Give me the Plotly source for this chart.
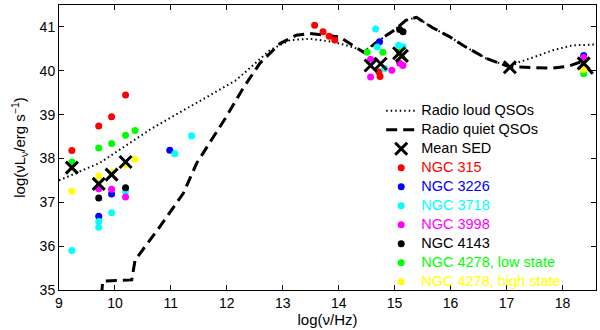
import plotly.graph_objects as go

# ---- curves ----
rl_x = [9.0, 9.73, 10.63, 11.52, 12.17, 12.77, 13.13, 13.48, 13.9, 14.25, 14.45,
        14.73, 15.03, 15.2, 15.39, 15.68, 15.98, 16.22, 16.64, 17.05, 17.23, 17.53,
        17.83, 18.18, 18.6]
rl_y = [37.5, 37.9, 38.66, 39.31, 39.79, 40.47, 40.70, 40.73, 40.66, 40.54, 40.44,
        40.70, 40.96, 41.15, 41.22, 40.98, 40.78, 40.58, 40.28, 40.09, 40.2, 40.33,
        40.47, 40.58, 40.6]

rq_x = [9.74, 9.78, 10.3, 10.36, 10.8, 11.22, 11.46, 11.99, 12.29, 12.59, 12.95,
        13.24, 13.48, 14.02, 14.25, 14.45, 14.73, 15.03, 15.2, 15.39, 15.68, 15.98,
        16.22, 16.64, 17.05, 17.53, 17.83, 18.1, 18.32, 18.48, 18.6]
rq_y = [34.5, 35.2, 35.23, 35.68, 36.44, 37.2, 37.89, 38.95, 39.6, 40.17, 40.62,
        40.81, 40.85, 40.77, 40.58, 40.42, 40.70, 40.96, 41.15, 41.22, 40.98, 40.78,
        40.58, 40.28, 40.09, 40.08, 40.06, 40.1, 40.2, 40.02, 39.85]

# ---- mean SED ----
mean_x = [9.23, 9.71, 9.94, 10.19, 14.57, 14.75, 15.08, 15.13, 17.06, 18.38]
mean_y = [37.79, 37.42, 37.63, 37.92, 40.12, 40.16, 40.40, 40.34, 40.08, 40.17]

# ---- galaxies ----
n315_x = [9.23, 9.71, 9.94, 10.19, 13.57, 13.72, 13.83, 13.93, 14.72, 14.74, 18.38]
n315_y = [38.18, 38.74, 38.95, 39.45, 41.04, 40.89, 40.79, 40.70, 39.97, 39.87, 40.05]

n3226_x = [9.71, 9.94, 10.98, 14.73, 18.38]
n3226_y = [36.68, 37.19, 38.19, 40.66, 40.35]

n3718_x = [9.23, 9.71, 9.71, 9.94, 10.19, 11.07, 11.37, 14.66, 14.69, 14.82, 15.07, 15.15]
n3718_y = [35.9, 36.56, 36.43, 36.76, 37.25, 38.11, 38.52, 40.95, 40.54, 40.05, 40.58, 40.55]

n3998_x = [9.71, 9.94, 10.19, 14.57, 14.57, 14.95, 15.09, 15.15, 18.38]
n3998_y = [37.31, 37.30, 37.12, 40.26, 39.86, 40.01, 40.17, 40.12, 40.30]

n4143_x = [9.71, 10.19, 15.09, 15.15]
n4143_y = [37.10, 37.33, 40.94, 40.89]

n4278l_x = [9.23, 9.71, 9.94, 10.19, 10.36, 14.51, 14.79, 15.08, 18.38]
n4278l_y = [37.92, 38.24, 38.34, 38.53, 38.64, 40.42, 40.42, 40.43, 39.93]

n4278h_x = [9.23, 9.71, 9.94, 10.19, 10.36, 15.12, 18.38]
n4278h_y = [37.25, 37.60, 37.68, 37.85, 37.98, 40.33, 40.03]

x_ticks = [9, 10, 11, 12, 13, 14, 15, 16, 17, 18]
y_ticks = [35, 36, 37, 38, 39, 40, 41]

FONT = "Liberation Sans, Arial, sans-serif"


def lg(text, color="#000000"):
    return f"<span style='font-size:14.5px;color:{color}'>{text}</span>"


fig = go.Figure()

fig.add_trace(go.Scatter(x=rl_x, y=rl_y, mode="lines", name=lg("Radio loud QSOs"),
                         line=dict(color="black", width=2, dash="1.5px,3px"),
                         legendrank=1))
fig.add_trace(go.Scatter(x=rq_x, y=rq_y, mode="lines", name=lg("Radio quiet QSOs"),
                         line=dict(color="black", width=3, dash="11px,6px"),
                         legendrank=2))

gals = [
    ("NGC 315", n315_x, n315_y, "#ff0000"),
    ("NGC 3226", n3226_x, n3226_y, "#0000ff"),
    ("NGC 3718", n3718_x, n3718_y, "#00ffff"),
    ("NGC 3998", n3998_x, n3998_y, "#ff00ff"),
    ("NGC 4143", n4143_x, n4143_y, "#000000"),
    ("NGC 4278, low state", n4278l_x, n4278l_y, "#00ff00"),
    ("NGC 4278, high state", n4278h_x, n4278h_y, "#ffff00"),
]
for i, (nm, xs, ys, c) in enumerate(gals):
    fig.add_trace(go.Scatter(x=xs, y=ys, mode="markers", name=lg(nm, c),
                             marker=dict(color=c, size=7, line=dict(width=0)),
                             legendrank=10 + i))

fig.add_trace(go.Scatter(x=mean_x, y=mean_y, mode="markers", name=lg("Mean SED"),
                         marker=dict(symbol="x-thin", size=12, color="black",
                                     line=dict(width=3, color="black")),
                         legendrank=3))

axis_common = dict(showline=True, linecolor="black", linewidth=1, mirror="ticks",
                   ticks="inside", ticklen=5, tickcolor="black", showgrid=False,
                   zeroline=False, tickfont=dict(size=14, color="black", family=FONT))

fig.update_xaxes(range=[9, 18.6], tickvals=x_ticks, **axis_common,
                 title=dict(text="log(ν/Hz)", font=dict(size=15, color="black", family=FONT),
                            standoff=4))
fig.update_yaxes(range=[35, 41.5], tickvals=y_ticks, **axis_common,
                 title=dict(text="log(νL<sub>ν</sub>/erg s<sup>−1</sup>)",
                            font=dict(size=15, color="black", family=FONT), standoff=10))

fig.update_layout(
    width=600, height=330,
    margin=dict(l=59, r=4, t=5, b=40),
    plot_bgcolor="white", paper_bgcolor="white",
    font=dict(family=FONT, size=14, color="black"),
    showlegend=True,
    legend=dict(x=0.6, y=0.68, xanchor="left", yanchor="top",
                bgcolor="rgba(0,0,0,0)", borderwidth=0,
                font=dict(size=11, family=FONT, color="black"),
                itemwidth=30, tracegroupgap=0),
)

fig.write_html("out.html", config={"displayModeBar": False})

with open("out.html", "r", encoding="utf-8") as f:
    html = f.read()
html = html.replace("<head>", "<head><style>html,body{margin:0;padding:0;overflow:hidden;}</style>", 1)
with open("out.html", "w", encoding="utf-8") as f:
    f.write(html)
